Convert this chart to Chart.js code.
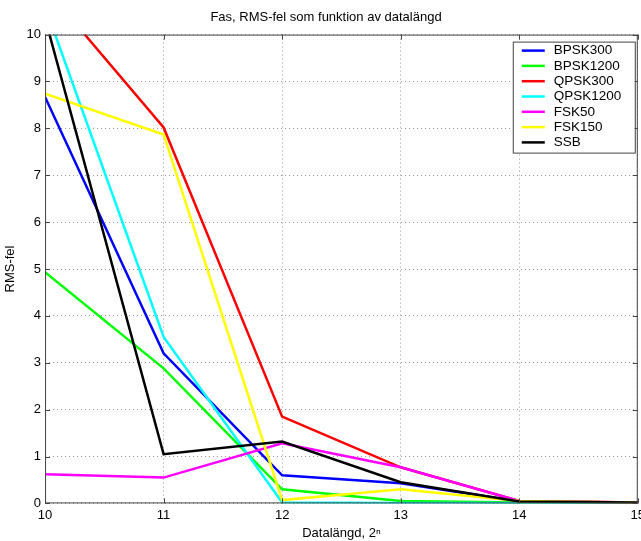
<!DOCTYPE html>
<html lang="sv">
<head>
    <meta charset="UTF-8">
    <script src="https://cdn.jsdelivr.net/npm/chart.js"></script>
    <title>Fas, RMS-fel</title>
    <style>
      body { margin: 0; overflow: hidden; background: #fff; }
    </style>
</head>
<body>
    <canvas id="myChart" width="649" height="541"></canvas>

    <script>
      // data
      const xVals = [10, 11, 12, 13, 14, 15];
      const bpsk300  = [8.67, 3.2, 0.6, 0.43, 0.04, 0.02];
      const bpsk1200 = [4.93, 2.88, 0.3, 0.05, 0.02, 0.01];
      const qpsk300  = [11.0, 8.02, 1.85, 0.77, 0.05, 0.02];
      const qpsk1200 = [10.6, 3.55, 0.02, 0.01, 0.01, 0.0];
      const fsk50    = [0.62, 0.55, 1.28, 0.77, 0.05, 0.02];
      const fsk150   = [8.74, 7.87, 0.07, 0.3, 0.05, 0.02];
      const ssb      = [10.35, 1.05, 1.32, 0.45, 0.04, 0.02];

      const seriesNames = ['BPSK300', 'BPSK1200', 'QPSK300', 'QPSK1200', 'FSK50', 'FSK150', 'SSB'];
      const seriesData = [bpsk300, bpsk1200, qpsk300, qpsk1200, fsk50, fsk150, ssb];
      const seriesColors = ['#0000ff', '#00ff00', '#ff0000', '#00ffff', '#ff00ff', '#ffff00', '#000000'];

      const FONT = '"Liberation Sans", Arial, sans-serif';

      const datasets = seriesNames.map((name, i) => ({
        label: name,
        data: xVals.map((x, j) => ({ x: x, y: seriesData[i][j] })),
        borderColor: seriesColors[i],
        backgroundColor: seriesColors[i],
        borderWidth: 2.5,
        pointRadius: 0,
        tension: 0,
        order: seriesNames.length - i   // later series on top, like matlab
      }));

      // box, inward ticks and the legend inside the axes
      const matlabBox = {
        id: 'matlabBox',
        afterDatasetsDraw(chart) {
          const c = chart.ctx;
          const a = chart.chartArea;
          const xs = chart.scales.x, ys = chart.scales.y;
          c.save();
          c.strokeStyle = '#444';
          c.lineWidth = 1;
          c.strokeRect(a.left + 0.5, a.top + 0.5, a.right - a.left - 1, a.bottom - a.top - 1);
          c.beginPath();
          xs.ticks.forEach(t => {
            const px = Math.round(xs.getPixelForValue(t.value)) + 0.5;
            c.moveTo(px, a.bottom); c.lineTo(px, a.bottom - 5);
            c.moveTo(px, a.top); c.lineTo(px, a.top + 5);
          });
          ys.ticks.forEach(t => {
            const py = Math.round(ys.getPixelForValue(t.value)) + 0.5;
            c.moveTo(a.left, py); c.lineTo(a.left + 5, py);
            c.moveTo(a.right, py); c.lineTo(a.right - 5, py);
          });
          c.stroke();

          // legend
          const w = 122, h = 111;
          const lx = a.right - 3 - w, ly = a.top + 7;
          c.fillStyle = '#fff';
          c.fillRect(lx, ly, w, h);
          c.strokeStyle = '#444';
          c.strokeRect(lx + 0.5, ly + 0.5, w, h);
          c.font = '13.5px ' + FONT;
          c.textBaseline = 'middle';
          chart.data.datasets.forEach((ds, i) => {
            const yy = ly + 9 + i * 15.3;
            c.strokeStyle = ds.borderColor;
            c.lineWidth = 2.5;
            c.beginPath();
            c.moveTo(lx + 9, yy); c.lineTo(lx + 32, yy);
            c.stroke();
            c.fillStyle = '#000';
            c.fillText(ds.label, lx + 41, yy);
          });
          c.restore();
        }
      };

      new Chart(document.getElementById('myChart'), {
        type: 'line',
        data: { datasets: datasets },
        options: {
          responsive: false,
          animation: false,
          layout: { padding: { top: 4, right: 0, bottom: 0, left: 3 } },
          plugins: {
            legend: { display: false },
            tooltip: { enabled: false },
            title: {
              display: true,
              text: 'Fas, RMS-fel som funktion av datalängd',
              color: '#000',
              font: { family: FONT, size: 13, weight: 'normal' },
              padding: { top: 6, bottom: 9 }
            }
          },
          scales: {
            x: {
              type: 'linear',
              min: 10, max: 15,
              ticks: {
                stepSize: 1, color: '#000', padding: 4,
                font: { family: FONT, size: 13 }
              },
              grid: { color: '#999', drawTicks: false },
              border: { display: false, dash: [1, 3] },
              title: {
                display: true,
                text: 'Datalängd, 2ⁿ',
                color: '#000',
                font: { family: FONT, size: 13, lineHeight: 1.0 },
                padding: { top: 0, bottom: 1 }
              }
            },
            y: {
              min: 0, max: 10,
              ticks: {
                stepSize: 1, color: '#000', padding: 4,
                font: { family: FONT, size: 13 }
              },
              grid: { color: '#999', drawTicks: false },
              border: { display: false, dash: [1, 3] },
              title: {
                display: true,
                text: 'RMS-fel',
                color: '#000',
                font: { family: FONT, size: 13 },
                padding: { top: 0, bottom: 4 }
              }
            }
          }
        },
        plugins: [matlabBox]
      });
    </script>
</body>
</html>
